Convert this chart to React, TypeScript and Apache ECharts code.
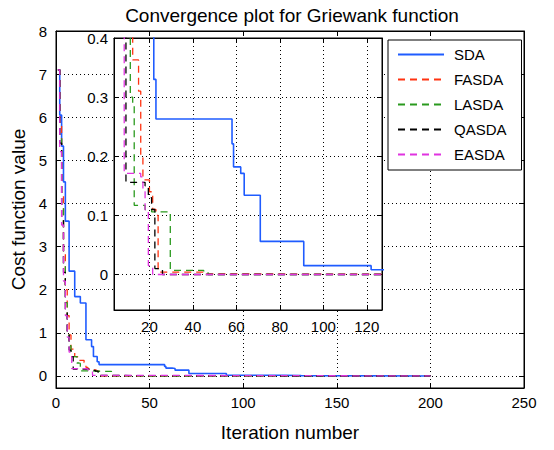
import React, { useEffect, useRef } from "react";
import * as echarts from "echarts";

// ---- data ----
const seriesNames = ["SDA", "FASDA", "LASDA", "QASDA", "EASDA"];
const seriesColors = ["#1f5cff", "#ff3311", "#2a9a1e", "#000000", "#e033e0"];

const iterSDA = [1, 2, 3, 4, 5, 7, 10, 13, 16, 19, 20, 22, 23, 58, 58.7, 62, 63.6, 71, 91, 122, 131, 200];
const valSDA = [7.1, 6.05, 5.33, 4.5, 3.59, 2.43, 1.84, 1.69, 0.84, 0.68, 0.45, 0.33, 0.263, 0.221, 0.182, 0.171, 0.134, 0.056, 0.015, 0.008, 0, 0];

const iterFASDA = [1, 2, 3, 4, 5, 6, 7, 8, 10, 12.3, 15, 16, 17, 20, 21.5, 23, 24, 45, 60, 200];
const valFASDA = [7.1, 5.8, 4.2, 2.9, 2.0, 1.4, 0.95, 0.62, 0.45, 0.363, 0.31, 0.2, 0.16, 0.14, 0.11, 0.1, 0.004, 0.001, 0, 0];

const iterLASDA = [1, 2, 3, 4, 5, 6, 7, 8, 11.2, 12.3, 13, 18, 21, 29.6, 45, 47, 200];
const valLASDA = [7.1, 5.5, 3.9, 2.6, 1.7, 1.05, 0.7, 0.45, 0.3, 0.29, 0.117, 0.11, 0.106, 0.007, 0.003, 0, 0];

const iterQASDA = [1, 2, 3, 4, 5, 6, 7, 8, 9.2, 18, 19.5, 21, 22.5, 26, 200];
const valQASDA = [7.1, 5.4, 3.7, 2.4, 1.5, 0.95, 0.6, 0.45, 0.156, 0.15, 0.13, 0.11, 0.01, 0, 0];

const iterEASDA = [1, 2, 3, 4, 5, 6, 7, 8.4, 16, 17, 18, 19.5, 21.5, 200];
const valEASDA = [7.1, 5.2, 3.5, 2.2, 1.4, 0.9, 0.55, 0.171, 0.165, 0.14, 0.106, 0.015, 0, 0];

const seriesIters = [iterSDA, iterFASDA, iterLASDA, iterQASDA, iterEASDA];
const seriesVals = [valSDA, valFASDA, valLASDA, valQASDA, valEASDA];

// axes
const mainXMin = 0;
const mainXMax = 250;
const mainXInterval = 50;
const mainYMin = -0.28;
const mainYMax = 8;
const mainYTicks = [0, 1, 2, 3, 4, 5, 6, 7, 8];

const insetXMin = 3.7;
const insetXMax = 127;
const insetXTicks = [20, 40, 60, 80, 100, 120];
const insetYMin = -0.06;
const insetYMax = 0.4;
const insetYTicks = [0, 0.1, 0.2, 0.3, 0.4];

const titleText = "Convergence plot for Griewank function";
const xName = "Iteration number";
const yName = "Cost function value";

const FONT = "Liberation Sans, Arial, sans-serif";

export default function App() {
  const ref = useRef<HTMLDivElement>(null);

  useEffect(() => {
    const chart = echarts.init(ref.current!, null, { renderer: "svg" });

    const dotted = { show: true, lineStyle: { type: [1, 3] as any, color: "#000", width: 1 } };
    const tick = { show: true, inside: true, length: 5, lineStyle: { color: "#000" } };
    const axLine = { show: true, onZero: false, lineStyle: { color: "#000", width: 1 } };
    const lbl = { color: "#000", fontSize: 15, fontFamily: FONT };

    const mkSeries = (i: number, inset: boolean) => ({
      name: seriesNames[i],
      type: "line",
      xAxisIndex: inset ? 2 : 0,
      yAxisIndex: inset ? 2 : 0,
      step: "end",
      symbol: "none",
      clip: true,
      z: inset ? 12 : 2,
      data: seriesIters[i].map((x, k) => [x, seriesVals[i][k]]),
      lineStyle: {
        color: seriesColors[i],
        width: i === 0 ? 1.6 : 1.3,
        type: i === 0 ? "solid" : ([7, 5] as any),
      },
      itemStyle: { color: seriesColors[i] },
    });

    const series: any[] = [];
    for (let i = 0; i < seriesNames.length; i++) series.push(mkSeries(i, false));
    for (let i = 0; i < seriesNames.length; i++) series.push(mkSeries(i, true));

    chart.setOption({
      animation: false,
      backgroundColor: "#fff",
      textStyle: { fontFamily: FONT },
      title: {
        text: titleText,
        left: 287,
        top: 1,
        textAlign: "center",
        textStyle: { fontSize: 19, fontWeight: "normal", color: "#000", fontFamily: FONT },
      },
      legend: {
        data: seriesNames,
        orient: "vertical",
        left: 388,
        top: 40,
        itemWidth: 46,
        itemHeight: 14,
        itemGap: 10,
        padding: [7, 15, 8, 9],
        borderColor: "#000",
        borderWidth: 1,
        backgroundColor: "#fff",
        z: 20,
        itemStyle: { opacity: 0 },
        textStyle: { fontSize: 15, color: "#000", fontFamily: FONT, padding: [0, 0, 0, 5] },
      },
      grid: [
        {
          left: 56, top: 31, width: 468, height: 357,
          show: true, borderColor: "#000", borderWidth: 1, backgroundColor: "#fff", z: 0,
        },
        {
          left: 114, top: 38, width: 268, height: 272,
          show: true, borderColor: "#000", borderWidth: 1, backgroundColor: "#fff", z: 10,
        },
      ],
      xAxis: [
        {
          gridIndex: 0, type: "value", min: mainXMin, max: mainXMax, interval: mainXInterval,
          position: "bottom", axisLine: axLine, axisTick: tick,
          axisLabel: { ...lbl, margin: 7 }, splitLine: dotted,
          name: xName, nameLocation: "middle", nameGap: 35,
          nameTextStyle: { fontSize: 19, color: "#000", fontFamily: FONT },
        },
        {
          gridIndex: 0, type: "value", min: mainXMin, max: mainXMax, interval: mainXInterval,
          position: "top", axisLine: axLine, axisTick: tick,
          axisLabel: { show: false }, splitLine: { show: false },
        },
        {
          gridIndex: 1, type: "value", min: insetXMin, max: insetXMax, z: 11,
          position: "bottom", axisLine: axLine,
          axisTick: { ...tick, customValues: insetXTicks },
          axisLabel: { ...lbl, margin: 9, customValues: insetXTicks },
          splitLine: dotted,
        },
        {
          gridIndex: 1, type: "value", min: insetXMin, max: insetXMax, z: 11,
          position: "top", axisLine: axLine,
          axisTick: { ...tick, customValues: insetXTicks },
          axisLabel: { show: false }, splitLine: { show: false },
        },
      ],
      yAxis: [
        {
          gridIndex: 0, type: "value", min: mainYMin, max: mainYMax,
          position: "left", axisLine: axLine,
          axisTick: { ...tick, customValues: mainYTicks },
          axisLabel: { ...lbl, margin: 9, customValues: mainYTicks },
          splitLine: dotted,
          name: yName, nameLocation: "middle", nameGap: 27,
          nameTextStyle: { fontSize: 19, color: "#000", fontFamily: FONT },
        },
        {
          gridIndex: 0, type: "value", min: mainYMin, max: mainYMax,
          position: "right", axisLine: axLine,
          axisTick: { ...tick, customValues: mainYTicks },
          axisLabel: { show: false }, splitLine: { show: false },
        },
        {
          gridIndex: 1, type: "value", min: insetYMin, max: insetYMax, z: 11,
          position: "left", axisLine: axLine,
          axisTick: { ...tick, customValues: insetYTicks },
          axisLabel: { ...lbl, margin: 6, customValues: insetYTicks },
          splitLine: dotted,
        },
        {
          gridIndex: 1, type: "value", min: insetYMin, max: insetYMax, z: 11,
          position: "right", axisLine: axLine,
          axisTick: { ...tick, customValues: insetYTicks },
          axisLabel: { show: false }, splitLine: { show: false },
        },
      ],
      series,
    });

    return () => chart.dispose();
  }, []);

  return (
    <div
      ref={ref}
      style={{ position: "fixed", left: 0, top: 0, width: 554, height: 450 }}
    />
  );
}
